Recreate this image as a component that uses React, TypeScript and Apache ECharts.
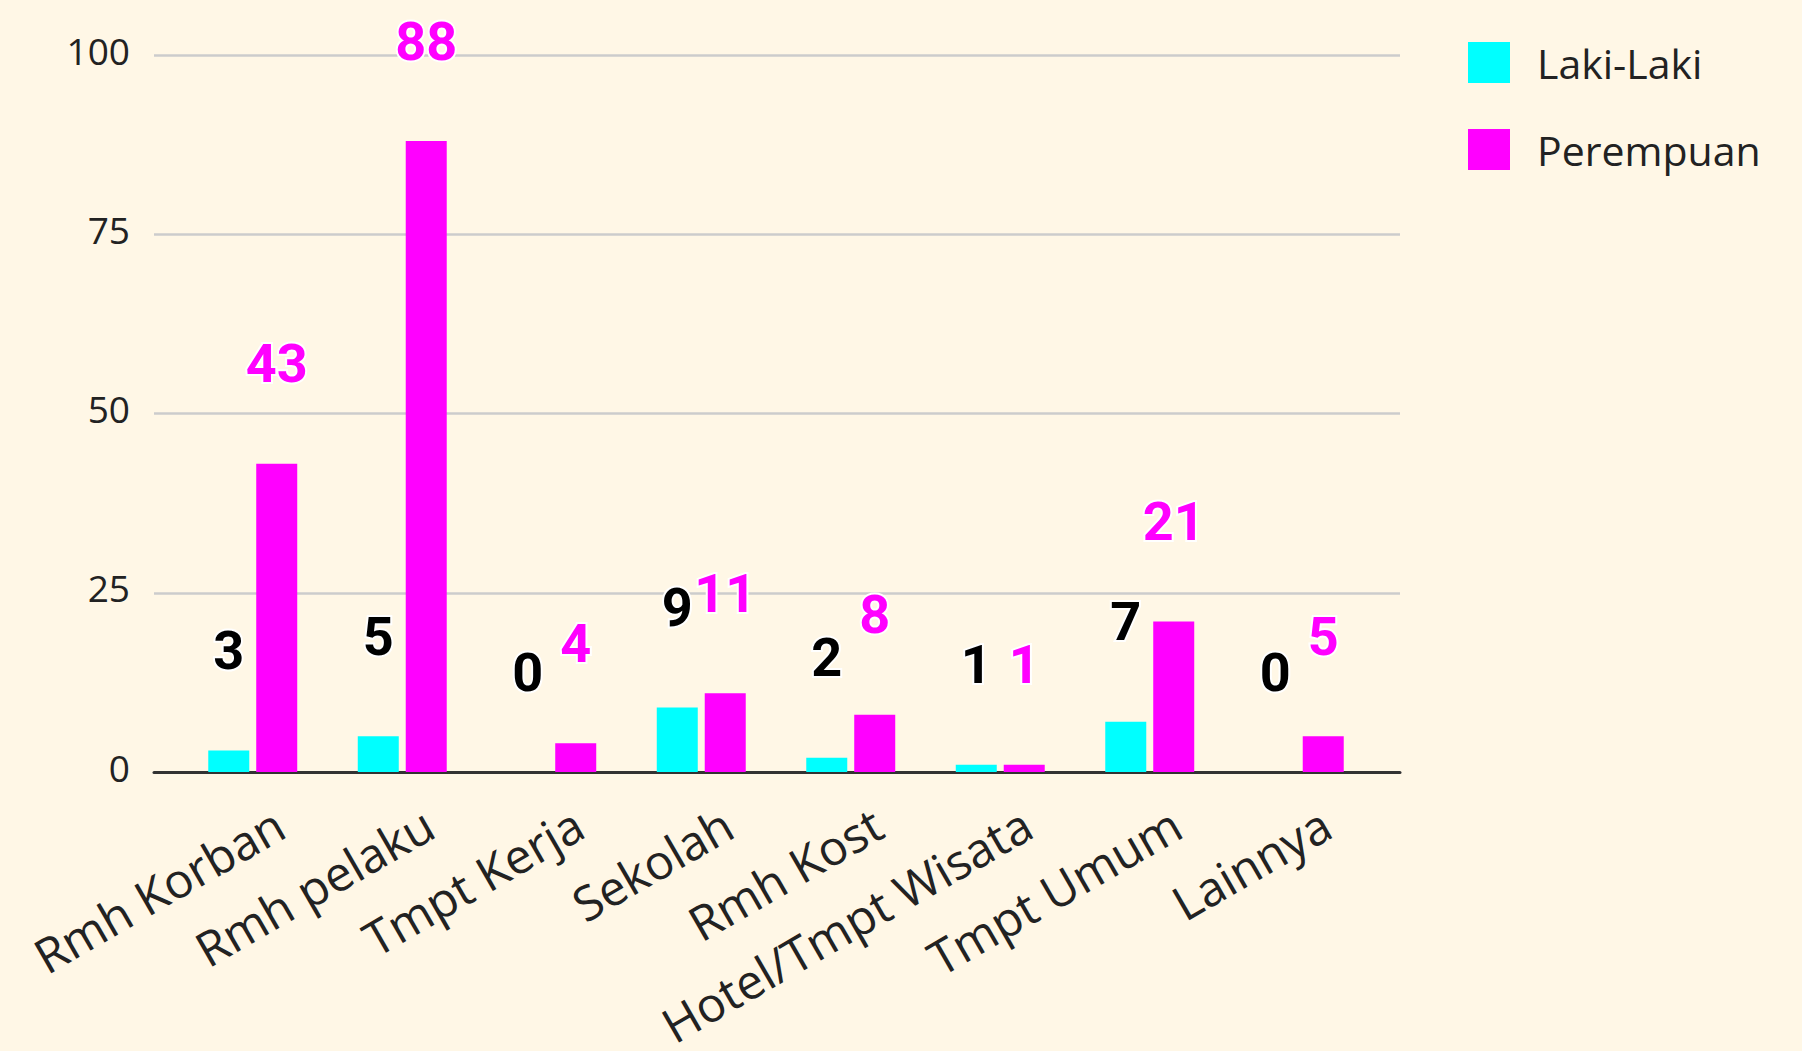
import React, { useEffect, useRef } from "react";
import * as echarts from "echarts";

const categories = [
  "Rmh Korban",
  "Rmh pelaku",
  "Tmpt Kerja",
  "Sekolah",
  "Rmh Kost",
  "Hotel/Tmpt Wisata",
  "Tmpt Umum",
  "Lainnya",
];
const lakiLaki = [3, 5, 0, 9, 2, 1, 7, 0];
const perempuan = [43, 88, 4, 11, 8, 1, 21, 5];
const seriesNames = ["Laki-Laki", "Perempuan"];
const yMin = 0;
const yMax = 100;
const yInterval = 25;

const W = 1802;
const H = 1051;
const BG = "#fff7e6";

export default function App() {
  const ref = useRef<HTMLDivElement>(null);
  useEffect(() => {
    document.body.style.margin = "0";
    document.body.style.background = BG;
    const chart = echarts.init(ref.current!, null, { renderer: "svg" });
    const top = 55;
    const bottom = H - 772;
    const hiddenY = (gi: number) => ({
      type: "value",
      gridIndex: gi,
      min: yMin,
      max: yMax,
      interval: yInterval,
      show: false,
    });
    const dataLabel = (color: string) => ({
      show: true,
      position: "top",
      distance: 73,
      color,
      fontFamily: "Roboto",
      fontWeight: "bold",
      fontSize: 54,
      textBorderColor: "#ffffff",
      textBorderWidth: 4,
    });
    chart.setOption({
      animation: false,
      backgroundColor: BG,
      textStyle: { fontFamily: "Open Sans" },
      legend: {
        orient: "vertical",
        left: 1463,
        top: 37,
        itemWidth: 42,
        itemHeight: 41,
        itemGap: 46,
        icon: "rect",
        data: seriesNames,
        textStyle: {
          fontFamily: "Open Sans",
          fontSize: 41,
          color: "#222222",
          padding: [0, 0, 0, 22],
        },
      },
      grid: [
        { left: 154, right: W - 1400, top, bottom },
        { left: 178, right: W - 1374, top, bottom },
        { left: 205, right: W - 1401, top, bottom },
      ],
      xAxis: [
        {
          type: "category",
          gridIndex: 0,
          data: categories,
          axisLine: { show: true, lineStyle: { color: "#333333", width: 3 } },
          axisTick: { show: false },
          axisLabel: { show: false },
        },
        {
          type: "category",
          gridIndex: 1,
          data: categories,
          show: false,
        },
        {
          type: "category",
          gridIndex: 2,
          data: categories,
          axisLine: { show: false },
          axisTick: { show: false },
          axisLabel: {
            interval: 0,
            rotate: 30,
            margin: 60,
            fontFamily: "Open Sans",
            fontSize: 48,
            color: "#222222",
          },
        },
      ],
      yAxis: [
        {
          type: "value",
          gridIndex: 0,
          min: yMin,
          max: yMax,
          interval: yInterval,
          axisLine: { show: false },
          axisTick: { show: false },
          axisLabel: {
            margin: 24,
            fontFamily: "Open Sans",
            fontSize: 37,
            color: "#222222",
            verticalAlign: "bottom",
            lineHeight: 10,
          },
          splitLine: { lineStyle: { color: "#cccccc", width: 2.5 } },
        },
        hiddenY(1),
        hiddenY(2),
      ],
      series: [
        {
          name: seriesNames[0],
          type: "bar",
          xAxisIndex: 1,
          yAxisIndex: 1,
          data: lakiLaki,
          barWidth: 41,
          barGap: "17%",
          itemStyle: { color: "#00ffff" },
          label: dataLabel("#000000"),
        },
        {
          name: seriesNames[1],
          type: "bar",
          xAxisIndex: 1,
          yAxisIndex: 1,
          data: perempuan,
          barWidth: 41,
          barGap: "17%",
          itemStyle: { color: "#ff00ff" },
          label: dataLabel("#ff00ff"),
        },
      ],
    });
    return () => chart.dispose();
  }, []);
  return (
    <div
      ref={ref}
      style={{ position: "fixed", left: 0, top: 0, width: W, height: H, background: BG }}
    />
  );
}
